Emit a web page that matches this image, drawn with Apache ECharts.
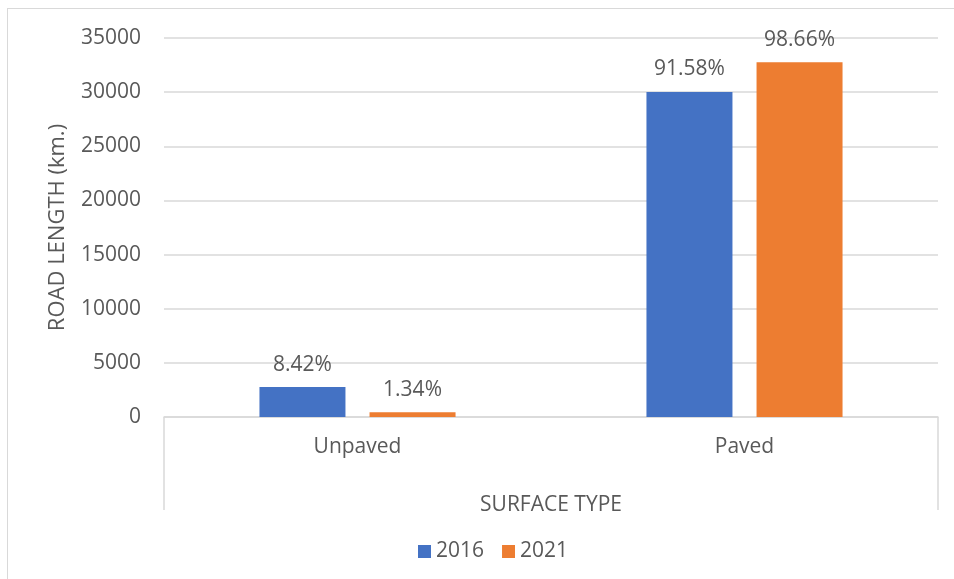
<!DOCTYPE html>
<html>
<head>
<meta charset="utf-8">
<script src="https://cdn.jsdelivr.net/npm/echarts@6/dist/echarts.min.js"></script>
<style>
  html, body { margin: 0; padding: 0; background: #fff; overflow: hidden; width: 954px; height: 579px; }
  .frame {
    position: absolute; left: 7px; top: 8px; width: 960px; height: 590px;
    border: 1px solid #d9d9d9; box-sizing: border-box;
  }
  #chart { position: absolute; left: 0; top: 0; width: 954px; height: 579px; }
</style>
</head>
<body>
<div class="frame"></div>
<div id="chart"></div>
<script>
  // --- data ---
  const categories = ['Unpaved', 'Paved']
  const years = ['2016', '2021']
  const length2016 = [2760, 30020]
  const length2021 = [445, 32770]
  const share2016 = ['8.42%', '91.58%']
  const share2021 = ['1.34%', '98.66%']

  const textColor = '#595959'
  const gridColor = '#d9d9d9'
  const font = '"Open Sans", "Noto Sans", sans-serif'

  const chart = echarts.init(document.getElementById('chart'))

  const barLabel = (shares) => ({
    show: true,
    position: 'top',
    distance: 12,
    color: textColor,
    fontFamily: font,
    fontSize: 21,
    formatter: (p) => shares[p.dataIndex]
  })

  const option = {
    animation: false,
    textStyle: { fontFamily: font },
    grid: [
      { left: 164, right: 16, top: 38, bottom: 162 },
      // empty strip under the category axis: its outer split lines form the bracket
      { left: 164, right: 16, top: 417, height: 93 }
    ],
    legend: {
      data: years,
      left: 413,
      top: 536,
      itemWidth: 13,
      itemHeight: 13,
      itemGap: 18,
      icon: 'rect',
      textStyle: { color: textColor, fontSize: 21, fontFamily: font }
    },
    xAxis: [
      {
        type: 'category',
        data: categories,
        name: 'SURFACE TYPE',
        nameLocation: 'middle',
        nameGap: 78,
        nameTextStyle: { color: textColor, fontSize: 21, fontFamily: font },
        axisLine: { lineStyle: { color: gridColor, width: 1.5 } },
        axisTick: { show: false },
        axisLabel: { color: textColor, fontSize: 21, fontFamily: font, margin: 20 }
      },
      {
        gridIndex: 1,
        type: 'value',
        min: 0,
        max: 1,
        interval: 1,
        axisLine: { show: false },
        axisTick: { show: false },
        axisLabel: { show: false },
        splitLine: { show: true, lineStyle: { color: gridColor, width: 1.5 } }
      }
    ],
    yAxis: [
      {
        type: 'value',
        min: 0,
        max: 35000,
        interval: 5000,
        name: 'ROAD LENGTH (km.)',
        nameLocation: 'middle',
        nameGap: 95,
        nameTextStyle: { color: textColor, fontSize: 22, fontFamily: font },
        axisLine: { show: false },
        axisTick: { show: false },
        axisLabel: { color: textColor, fontSize: 21, fontFamily: font, margin: 23, formatter: (v) => String(v) },
        splitLine: { lineStyle: { color: gridColor, width: 1.5 } }
      },
      {
        gridIndex: 1,
        type: 'value',
        show: false,
        splitLine: { show: false }
      }
    ],
    series: [
      {
        name: years[0],
        type: 'bar',
        data: length2016,
        barWidth: 86,
        barGap: '28%',
        itemStyle: { color: '#4472c4' },
        label: barLabel(share2016)
      },
      {
        name: years[1],
        type: 'bar',
        data: length2021,
        barWidth: 86,
        itemStyle: { color: '#ed7d31' },
        label: barLabel(share2021)
      }
    ]
  }

  chart.setOption(option)
</script>
</body>
</html>
